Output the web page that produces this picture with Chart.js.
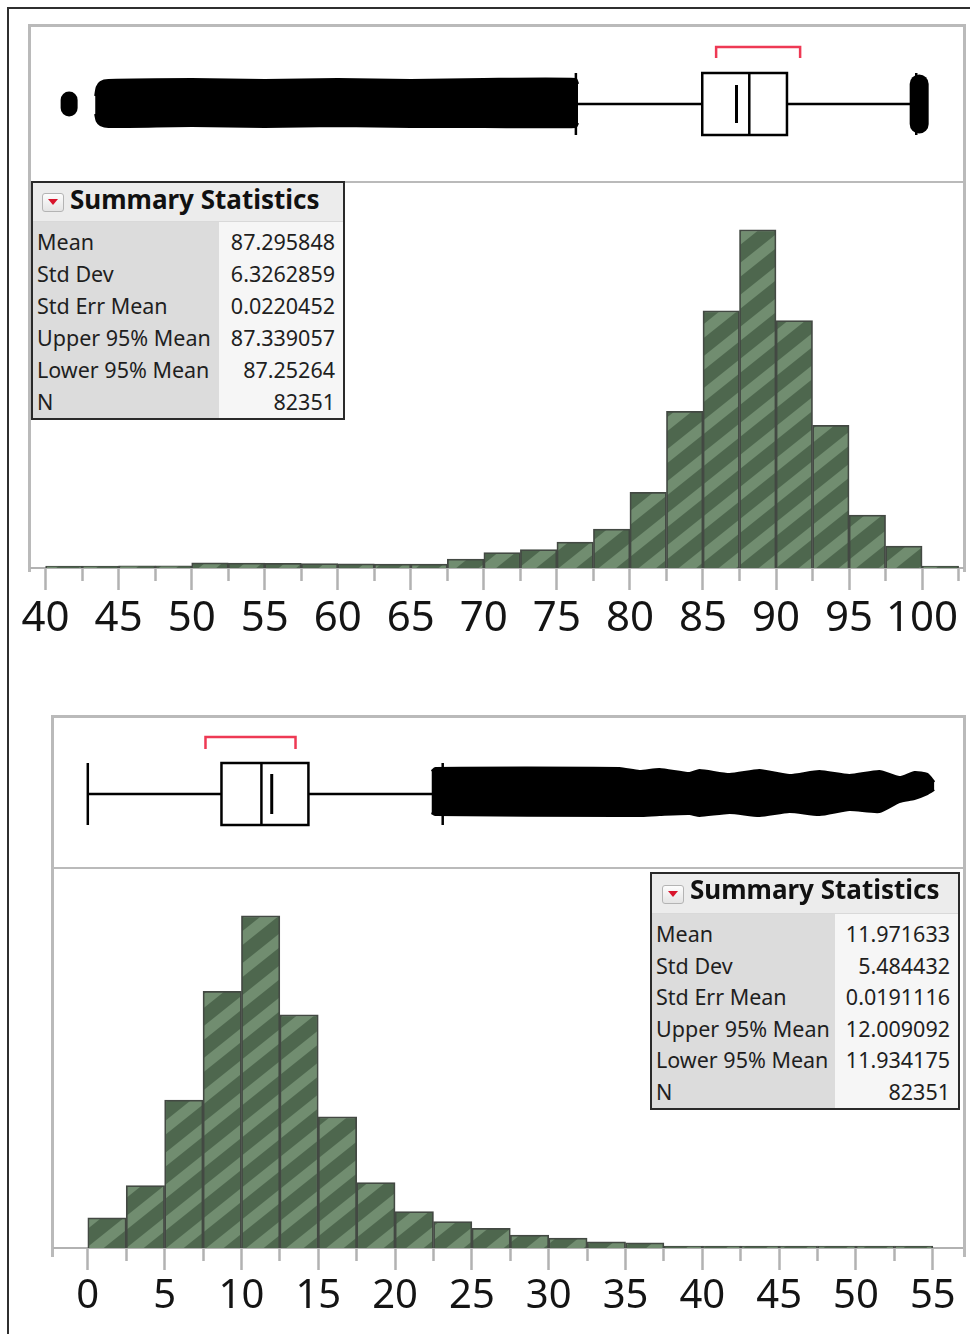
<!DOCTYPE html>
<html>
<head>
<meta charset="utf-8">
<title>Distributions</title>
<script src="https://cdn.jsdelivr.net/npm/chart.js@4/dist/chart.umd.min.js"></script>
<style>
  html, body { margin: 0; padding: 0; background: #fff; }
  body { position: relative; width: 970px; height: 1334px; overflow: hidden;
         font-family: 'Noto Sans', 'DejaVu Sans', sans-serif; }
  .outer { position: absolute; left: 7px; top: 7px; width: 1000px; height: 1400px;
           border-top: 2px solid #2f2f2f; border-left: 2px solid #2f2f2f; }
  .frame { position: absolute; box-sizing: border-box; border: 3px solid #bababa; border-bottom: none; }
  .sep { position: absolute; height: 2px; background: #bababa; }
  .stats { position: absolute; z-index: 5; box-sizing: border-box; border: 2px solid #2a2a2a;
           background: #f6f6f6; color: #1f1f1f; }
  .stats .hdr { position: relative; background: #ececec; border-bottom: 1px solid #d9d9d9; box-sizing: border-box; }
  .stats .icon { position: absolute; width: 22px; height: 19px; box-sizing: border-box; border: 1px solid #b4b4b4;
                 border-radius: 3px; background: linear-gradient(#fdfdfd, #e4e4e4); }
  .stats .icon::after { content: ''; position: absolute; left: 4.5px; top: 5px;
                        border-left: 5.5px solid transparent; border-right: 5.5px solid transparent;
                        border-top: 6.5px solid #d8142c; }
  .stats .title { position: absolute; font-weight: 700; font-size: 26px; line-height: 34px;
                  white-space: nowrap; letter-spacing: 0; color: #111; }
  .stats .body { display: flex; }
  .stats .col { padding-top: 4px; box-sizing: border-box; }
  .stats .lab { background: #dcdcdc; padding-left: 4px; }
  .stats .val { flex: 1; text-align: right; padding-right: 8px; }
  .stats .cell { font-size: 21.5px; white-space: nowrap; }
</style>
</head>
<body>
<div class="outer"></div>
<script>
// ---------------- data ----------------
const BIN_WIDTH = 2.5;

// upper distribution
const upperBins = [40, 42.5, 45, 47.5, 50, 52.5, 55, 57.5, 60, 62.5, 65, 67.5, 70, 72.5, 75, 77.5,
                   80, 82.5, 85, 87.5, 90, 92.5, 95, 97.5, 100];
const upperCounts = [110, 110, 120, 120, 290, 280, 260, 250, 240, 230, 230, 510, 880, 1050, 1480, 2230,
                     4330, 8950, 14700, 19330, 14140, 8150, 3020, 1250, 110];
const upperTicks = [40, 42.5, 45, 47.5, 50, 52.5, 55, 57.5, 60, 62.5, 65, 67.5, 70, 72.5, 75, 77.5,
                    80, 82.5, 85, 87.5, 90, 92.5, 95, 97.5, 100, 102.5];
const upperTickLabels = [40, 45, 50, 55, 60, 65, 70, 75, 80, 85, 90, 95, 100];
const upperQuartiles = [84.95, 88.17, 90.75];          // Q1, median, Q3
const upperWhiskers = [76.3, 99.6];
const upperMean = 87.295848;
const upperShortestHalf = [85.9, 91.65];
const upperOutlierX = [43.39, 43.5, 43.75, 44.3, 50.0, 55.0, 60.0, 65.0, 70.0, 76.3, 76.45];
const upperOutlierHigh = [8, 17, 22, 24, 25, 24, 25, 24, 25, 25, 20];
const upperOutlierLow = [-10, -17, -21, -23, -22, -23, -22, -23, -23, -23, -19];
const upperOutlierPoints = [41.61, 99.8];
const upperOutlierPointSpread = [4, 20];

// lower distribution
const lowerBins = [0, 2.5, 5, 7.5, 10, 12.5, 15, 17.5, 20, 22.5, 25, 27.5, 30, 32.5, 35, 37.5,
                   40, 42.5, 45, 47.5, 50, 52.5];
const lowerCounts = [1780, 3690, 8760, 15190, 19670, 13810, 7770, 3880, 2150, 1560, 1160, 770, 590, 360, 300, 120,
                     120, 120, 120, 120, 120, 120];
const lowerTicks = [0, 2.5, 5, 7.5, 10, 12.5, 15, 17.5, 20, 22.5, 25, 27.5, 30, 32.5, 35, 37.5,
                    40, 42.5, 45, 47.5, 50, 52.5, 55];
const lowerTickLabels = [0, 5, 10, 15, 20, 25, 30, 35, 40, 45, 50, 55];
const lowerQuartiles = [8.7, 11.3, 14.36];
const lowerWhiskers = [0, 23.1];
const lowerMean = 11.971633;
const lowerShortestHalf = [7.66, 13.52];
const lowerOutlierX = [22.37, 22.63, 34.6, 35.9, 37.21, 39.16, 39.81, 41.77, 43.72, 45.67, 47.62, 49.57,
                       51.53, 52.83, 53.81, 54.65, 55.1];
const lowerOutlierHigh = [23, 26, 26, 23, 25, 21, 24, 20, 24, 19, 23, 19, 23, 17, 22, 20, 12];
const lowerOutlierLow = [-19, -21, -22, -22, -21, -20, -22, -19, -22, -18, -21, -16, -18, -8, -5, 0, 4];
const lowerOutlierPoints = [];
const lowerOutlierPointSpread = [];

// summary statistics
const statNames = ['Mean', 'Std Dev', 'Std Err Mean', 'Upper 95% Mean', 'Lower 95% Mean', 'N'];
const upperStats = ['87.295848', '6.3262859', '0.0220452', '87.339057', '87.25264', '82351'];
const lowerStats = ['11.971633', '5.484432', '0.0191116', '12.009092', '11.934175', '82351'];

// ---------------- styling ----------------
const FONT = "'Noto Sans', 'DejaVu Sans', sans-serif";
const FRAME_GREY = '#b2b2b2';
const BAR_EDGE = '#434943';
Chart.defaults.font.family = FONT;

// diagonal two-tone hatch used to fill the histogram bars
function stripePattern() {
  const W = 40, V = 32, slope = V / W;          // one stripe period per tile in both directions
  const c = document.createElement('canvas');
  c.width = W; c.height = V;
  const g = c.getContext('2d');
  g.fillStyle = '#4e674e';
  g.fillRect(0, 0, W, V);
  g.strokeStyle = '#718d70';
  g.lineWidth = 14 * Math.cos(Math.atan(slope));
  for (let k = -2; k <= 4; k++) {
    const c0 = k * V + 7;
    g.beginPath();
    g.moveTo(-W, c0 + slope * W);
    g.lineTo(2 * W, c0 - slope * 2 * W);
    g.stroke();
  }
  return g.createPattern(c, 'repeat');
}
const STRIPES = stripePattern();

function addDiv(cls, css) {
  const d = document.createElement('div');
  d.className = cls;
  d.style.cssText = css;
  document.body.appendChild(d);
  return d;
}

function makeCanvas(top, height) {
  const c = document.createElement('canvas');
  c.width = 970; c.height = height;
  c.style.cssText = `position:absolute;left:0;top:${top}px;width:970px;height:${height}px;z-index:2;`;
  document.body.appendChild(c);
  return c;
}

function lineSet(points, extra) {
  return Object.assign({
    data: points, borderColor: '#000', borderWidth: 2.5, pointRadius: 0, pointHoverRadius: 0,
    fill: false, tension: 0, borderCapStyle: 'butt', borderJoinStyle: 'miter'
  }, extra || {});
}

// box plot with mean line, shortest-half bracket and outlier cloud
function boxPlot(canvas, p) {
  const [q1, med, q3] = p.quartiles;
  const [wl, wh] = p.whiskers;
  const h = p.boxHalf;
  const [sa, sb] = p.shortestHalf;
  const sets = [
    lineSet([{x: med, y: -h}, {x: med, y: h}]),
    lineSet([{x: p.mean, y: -p.meanHalf}, {x: p.mean, y: p.meanHalf}], {borderWidth: 3}),
    lineSet([{x: q1, y: -h}, {x: q3, y: -h}, {x: q3, y: h}, {x: q1, y: h}, {x: q1, y: -h}],
            {borderCapStyle: 'square'}),
    lineSet([{x: wl, y: 0}, {x: q1, y: 0}]),
    lineSet([{x: q3, y: 0}, {x: wh, y: 0}]),
    lineSet([{x: wl, y: -h}, {x: wl, y: h}]),
    lineSet([{x: wh, y: -h}, {x: wh, y: h}]),
    lineSet([{x: sa, y: p.bracketLeg}, {x: sa, y: p.bracketTop}, {x: sb, y: p.bracketTop}, {x: sb, y: p.bracketLeg}],
            {borderColor: '#ee3954', borderWidth: 2.5}),
    lineSet(p.outX.map((x, i) => ({x, y: p.outHigh[i]})),
            {fill: '+1', backgroundColor: '#000', borderWidth: 2, borderJoinStyle: 'round', tension: 0.2}),
    lineSet(p.outX.map((x, i) => ({x, y: p.outLow[i]})),
            {borderWidth: 2, borderJoinStyle: 'round', tension: 0.2})
  ];
  p.points.forEach((x, i) => {
    const s = p.pointSpread[i];
    sets.push(lineSet([{x, y: -s}, {x, y: s}], {borderWidth: p.pointSize[i], borderCapStyle: 'round'}));
  });
  return new Chart(canvas, {
    type: 'line',
    data: {datasets: sets},
    options: {
      responsive: false, animation: false, events: [],
      layout: {padding: {left: p.padL, right: p.padR, top: 0, bottom: 0}},
      plugins: {legend: {display: false}, tooltip: {enabled: false}},
      scales: {
        x: {type: 'linear', min: p.xMin, max: p.xMax, display: false},
        y: {type: 'linear', min: p.yMin, max: p.yMax, display: false}
      }
    }
  });
}

function histogram(canvas, p) {
  return new Chart(canvas, {
    type: 'bar',
    data: {
      datasets: [{
        data: p.bins.map((b, i) => ({x: b + BIN_WIDTH / 2, y: p.counts[i]})),
        backgroundColor: STRIPES, borderColor: BAR_EDGE, borderWidth: 1.75, borderSkipped: 'bottom',
        barPercentage: 1, categoryPercentage: 1
      }]
    },
    options: {
      responsive: false, animation: false, events: [],
      layout: {padding: {left: p.padL, right: p.padR, top: 0, bottom: 0}},
      plugins: {legend: {display: false}, tooltip: {enabled: false}},
      scales: {
        x: {
          type: 'linear', min: p.xMin, max: p.xMax, bounds: 'data', offset: false,
          afterBuildTicks: s => { s.ticks = p.ticks.map(v => ({value: v})); },
          afterFit: s => { s.height = p.axisH; },
          grid: {
            drawOnChartArea: false, offset: false, tickLength: 22, tickWidth: 2.5, tickColor: FRAME_GREY,
            tickBorderDash: ctx => (ctx.tick && p.labels.includes(ctx.tick.value)) ? [] : [12, 40]
          },
          border: {display: true, color: FRAME_GREY, width: 2},
          ticks: {
            autoSkip: false, maxRotation: 0, minRotation: 0, padding: p.labelPad, color: '#141414',
            font: {family: FONT, size: p.fontSize},
            callback: v => p.labels.includes(v) ? String(v) : ''
          }
        },
        y: {type: 'linear', min: 0, max: p.yMax, display: false}
      }
    }
  });
}

function statsTable(p, values) {
  const t = addDiv('stats', `left:${p.left}px;top:${p.top}px;width:${p.width}px;`);
  const hdr = document.createElement('div');
  hdr.className = 'hdr';
  hdr.style.height = p.headH + 'px';
  const icon = document.createElement('div');
  icon.className = 'icon';
  icon.style.left = p.iconLeft + 'px';
  icon.style.top = p.iconTop + 'px';
  const title = document.createElement('div');
  title.className = 'title';
  title.style.left = p.titleLeft + 'px';
  title.style.top = p.titleTop + 'px';
  title.textContent = 'Summary Statistics';
  hdr.appendChild(icon); hdr.appendChild(title);
  t.appendChild(hdr);
  const body = document.createElement('div');
  body.className = 'body';
  const lab = document.createElement('div');
  lab.className = 'col lab';
  lab.style.width = p.labelW + 'px';
  const val = document.createElement('div');
  val.className = 'col val';
  statNames.forEach((n, i) => {
    const a = document.createElement('div');
    a.className = 'cell';
    a.style.height = a.style.lineHeight = p.rowH + 'px';
    a.textContent = n;
    lab.appendChild(a);
    const b = document.createElement('div');
    b.className = 'cell';
    b.style.height = b.style.lineHeight = p.rowH + 'px';
    b.textContent = values[i];
    val.appendChild(b);
  });
  body.appendChild(lab); body.appendChild(val);
  t.appendChild(body);
}

// ---------------- upper panel ----------------
addDiv('frame', 'left:28px;top:24px;width:938px;height:548px;');
addDiv('sep', 'left:28px;top:181px;width:938px;');
boxPlot(makeCanvas(27, 154), {
  quartiles: upperQuartiles, whiskers: upperWhiskers, mean: upperMean, shortestHalf: upperShortestHalf,
  outX: upperOutlierX, outHigh: upperOutlierHigh, outLow: upperOutlierLow,
  points: upperOutlierPoints, pointSpread: upperOutlierPointSpread, pointSize: [17, 19],
  boxHalf: 31, meanHalf: 19, bracketTop: 57, bracketLeg: 46,
  xMin: 39, xMax: 102.8, yMin: -77, yMax: 77, padL: 31, padR: 7
});
histogram(makeCanvas(183, 480), {
  bins: upperBins, counts: upperCounts, ticks: upperTicks, labels: upperTickLabels,
  xMin: 39, xMax: 102.8, yMax: 22000, padL: 31, padR: 7, axisH: 95, fontSize: 42, labelPad: 4
});
statsTable({left: 31, top: 181, width: 314, headH: 39, labelW: 186, rowH: 32,
            iconLeft: 9, iconTop: 10, titleLeft: 37, titleTop: -1}, upperStats);

// ---------------- lower panel ----------------
addDiv('frame', 'left:51px;top:715px;width:915px;height:542px;');
addDiv('sep', 'left:51px;top:867px;width:915px;');
boxPlot(makeCanvas(718, 149), {
  quartiles: lowerQuartiles, whiskers: lowerWhiskers, mean: lowerMean, shortestHalf: lowerShortestHalf,
  outX: lowerOutlierX, outHigh: lowerOutlierHigh, outLow: lowerOutlierLow,
  points: lowerOutlierPoints, pointSpread: lowerOutlierPointSpread, pointSize: [],
  boxHalf: 31, meanHalf: 20, bracketTop: 57, bracketLeg: 45,
  xMin: -2.2, xMax: 56.9, yMin: -73, yMax: 76, padL: 54, padR: 8
});
histogram(makeCanvas(869, 465), {
  bins: lowerBins, counts: lowerCounts, ticks: lowerTicks, labels: lowerTickLabels,
  xMin: -2.2, xMax: 56.9, yMax: 22440, padL: 54, padR: 8, axisH: 86, fontSize: 40, labelPad: 3
});
statsTable({left: 650, top: 872, width: 310, headH: 40, labelW: 183, rowH: 31.6,
            iconLeft: 10, iconTop: 11, titleLeft: 38, titleTop: -2}, lowerStats);
</script>
</body>
</html>
